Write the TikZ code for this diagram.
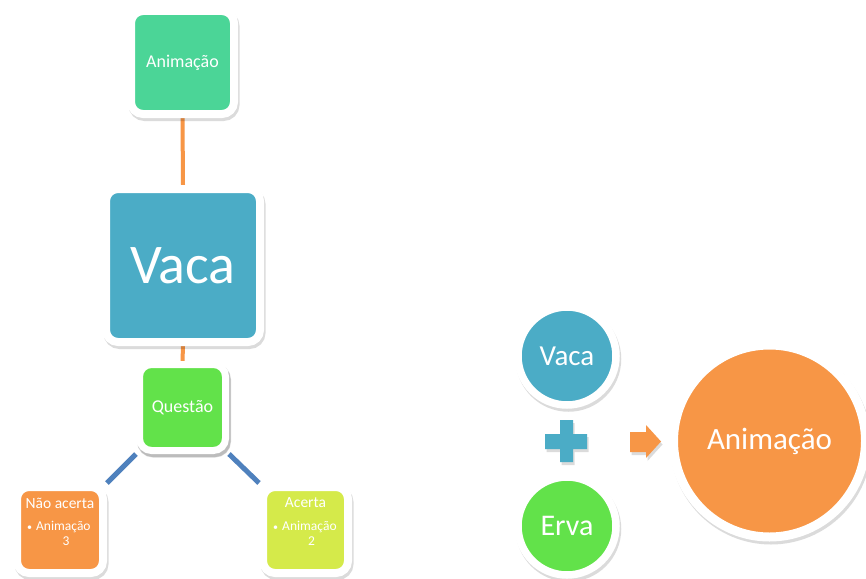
\documentclass[tikz,border=0pt]{standalone}
\usepackage{fontspec}
\setmainfont{Carlito}
\usetikzlibrary{backgrounds}
\definecolor{cAnim}{HTML}{4BD597}
\definecolor{cVaca}{HTML}{4BACC6}
\definecolor{cQuest}{HTML}{62E24A}
\definecolor{cNao}{HTML}{F79646}
\definecolor{cAcerta}{HTML}{D5EA4A}
\definecolor{cBlueLine}{HTML}{4F81BD}
\definecolor{cOrangeLine}{HTML}{F79646}
\tikzset{
  shadowed/.style={preaction={draw=black,fill=black,opacity=0.14,line width=#1,
      transform canvas={shift={(1.5pt,-3pt)}}}},
  box/.style={rectangle,rounded corners=12pt,draw=white,line width=8pt,
      shadowed=8pt,text=white,inner sep=0pt,align=center},
  disc/.style={circle,draw=white,line width=#1,shadowed=#1,text=white,inner sep=0pt},
  orangelink/.style={draw=cOrangeLine,line width=4pt},
  bluelink/.style={draw=cBlueLine,line width=5pt},
  txt/.style={text=white,inner sep=0pt,align=center},
}
\begin{document}
\begin{tikzpicture}[x=1pt,y=-1pt]
\clip (0,0) rectangle (866,578);

% left tree
\node[box,fill=cAnim,minimum width=103pt,minimum height=103pt,
      font=\fontsize{18}{20}\selectfont] (anim) at (182.5,62.5) {Animação};
\node[box,fill=cVaca,minimum width=154pt,minimum height=153pt,
      font=\fontsize{56}{60}\selectfont] (vaca) at (183,265.5) {Vaca};
\node[box,fill=cQuest,line width=7pt,shadowed=7pt,minimum width=86pt,minimum height=86pt,
      font=\fontsize{18}{20}\selectfont] (quest) at (182.5,407.5) {Questão};
\node[box,fill=cNao,minimum width=86pt,minimum height=86pt] (nao) at (60,530) {};
\node[box,fill=cAcerta,minimum width=85pt,minimum height=86pt] (acerta) at (305.5,530) {};

\node[txt,font=\fontsize{15.5}{17}\selectfont] (naot) at (60,503) {Não acerta};
\node[txt,font=\fontsize{13.5}{14}\selectfont,anchor=west] (naob) at (27,526.5) {{\fontsize{10}{10}\selectfont•}\hspace{4pt}Animação};
\node[txt,font=\fontsize{13.5}{14}\selectfont] (naon) at (66,541.5) {3};

\node[txt,font=\fontsize{15.5}{17}\selectfont] (acertat) at (305.5,503) {Acerta};
\node[txt,font=\fontsize{13.5}{14}\selectfont,anchor=west] (acertab) at (273,526.5) {{\fontsize{10}{10}\selectfont•}\hspace{4pt}Animação};
\node[txt,font=\fontsize{13.5}{14}\selectfont] (acertan) at (311.5,541.5) {2};

\begin{pgfonlayer}{background}
  \fill[white] (0,0) rectangle (866,578);
  \draw[orangelink] (anim.south) -- (vaca.north);
  \draw[orangelink] (vaca.south) -- (quest.north);
  \draw[bluelink] (quest.south west) -- (nao.north east);
  \draw[bluelink] (quest.south east) -- (acerta.north west);
\end{pgfonlayer}

% right equation
\node[disc=7.5pt,fill=cVaca,minimum size=98pt,
      font=\fontsize{29}{32}\selectfont] (vaca2) at (567,356) {Vaca};
\node[disc=7.5pt,fill=cQuest,minimum size=98pt,
      font=\fontsize{30}{32}\selectfont] (erva) at (567,526) {Erva};
\node[disc=9pt,fill=cNao,minimum size=192pt,
      font=\fontsize{31}{34}\selectfont] (anim2) at (769.5,441) {Animação};

% plus sign
\fill[black,opacity=0.14,transform canvas={shift={(1.5pt,-3pt)}}]
  (560,420) -- (573,420) -- (573,434) -- (587,434) -- (587,449) -- (573,449)
  -- (573,462) -- (560,462) -- (560,449) -- (545,449) -- (545,434) -- (560,434) -- cycle;
\fill[cVaca]
  (560,420) -- (573,420) -- (573,434) -- (587,434) -- (587,449) -- (573,449)
  -- (573,462) -- (560,462) -- (560,449) -- (545,449) -- (545,434) -- (560,434) -- cycle;

% arrow
\fill[black,opacity=0.14,transform canvas={shift={(1.5pt,-3pt)}}]
  (630,432) -- (646,432) -- (646,425) -- (661,441.5) -- (646,458) -- (646,452) -- (630,452) -- cycle;
\fill[cNao]
  (630,432) -- (646,432) -- (646,425) -- (661,441.5) -- (646,458) -- (646,452) -- (630,452) -- cycle;
\end{tikzpicture}
\end{document}
